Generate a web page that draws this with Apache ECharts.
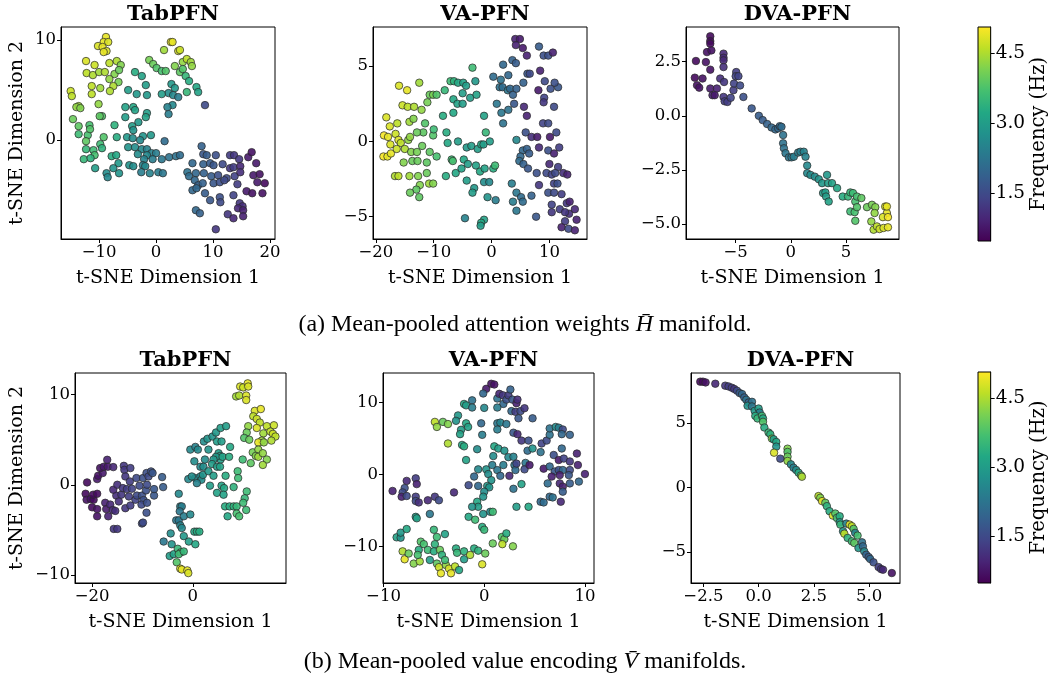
<!DOCTYPE html>
<html>
<head>
<meta charset="utf-8">
<script src="https://cdn.jsdelivr.net/npm/echarts@6/dist/echarts.min.js"></script>
<style>html,body{margin:0;padding:0;background:#fff}#c{width:1050px;height:682px}</style>
</head>
<body>
<div id="c"></div>
<script>
// ---- data: [t-SNE dim 1, t-SNE dim 2, frequency (Hz)] ----
const tabH = [[-8.8,10.3,4.9],[-9.2,9.8,4.9],[-8.4,9.8,4.8],[-10.2,9.4,4.8],[-9.4,9.3,4.9],[-8.7,8.9,4.8],[-9.2,8.8,4.9],[-12.3,7.9,4.8],[-10.8,7.5,4.7],[-8.2,7.7,4.6],[-6.9,7.9,4.5],[-6.2,7.5,4.2],[-12.2,6.7,4.6],[-11.1,6.5,4.5],[-10.0,6.8,4.4],[-9.0,6.8,4.5],[-7.3,6.6,4.2],[-6.5,7.0,4.0],[-8.2,6.1,4.3],[-6.6,5.8,4.1],[-11.3,5.4,4.6],[-9.8,5.2,4.4],[-7.5,5.4,4.5],[-8.1,4.9,4.5],[-11.3,4.6,4.6],[-15.0,4.9,4.7],[-14.8,4.4,4.6],[-13.6,3.4,4.4],[-14.0,3.3,4.3],[-13.3,3.2,4.2],[-10.1,3.6,4.3],[-9.5,2.4,3.8],[-9.9,2.4,3.9],[-14.6,2.1,4.0],[-13.6,1.4,3.9],[-11.7,1.5,3.7],[-13.6,0.6,3.6],[-12.0,0.5,3.7],[-11.6,1.1,3.8],[-9.2,0.3,3.8],[-12.3,-0.1,3.9],[-9.8,-0.4,3.6],[-12.3,-0.9,3.5],[-11.0,-1.0,3.6],[-9.5,-0.8,3.4],[-10.8,-1.5,3.7],[-12.7,-1.9,3.5],[-11.5,-1.8,3.4],[-10.7,-2.8,3.0],[-8.7,-3.3,2.7],[-8.5,-3.7,2.6],[-7.8,-1.6,3.3],[-7.0,-1.5,3.2],[-6.6,-2.3,2.9],[-7.5,-2.8,2.8],[-6.5,-3.3,2.8],[-7.3,1.5,3.4],[-6.9,0.3,3.3],
[2.6,9.8,4.9],[2.9,9.8,4.9],[3.9,8.9,4.8],[4.2,9.0,4.7],[1.4,9.0,4.4],[-1.2,8.0,4.1],[-0.5,7.6,4.0],[0.1,7.2,3.8],[1.0,6.9,3.7],[1.7,6.9,3.8],[3.3,7.4,4.2],[4.7,7.8,4.3],[5.4,8.1,4.6],[6.1,7.8,4.4],[6.3,7.4,4.3],[4.2,6.8,3.9],[4.7,7.1,3.8],[5.2,6.4,3.5],[5.8,5.9,3.3],[7.1,5.3,3.2],[7.4,4.8,3.1],[5.4,4.8,3.5],[2.7,5.6,2.9],[3.3,5.2,2.9],[2.2,4.7,2.7],[1.0,4.6,3.0],[3.0,4.5,2.6],[3.9,4.3,2.4],[2.9,3.5,2.6],[2.0,3.3,2.5],[2.2,2.6,2.4],[8.6,3.5,1.5],[-3.7,6.8,3.3],[-2.5,6.4,3.1],[-1.8,5.5,3.0],[-4.9,5.0,3.0],[-3.4,4.6,2.9],[-1.6,4.5,2.9],[-5.4,3.3,3.1],[-4.0,3.3,3.2],[-3.7,3.0,3.1],[-5.4,2.3,3.0],[-1.6,2.7,3.0],[-1.8,2.3,3.1],[-3.1,1.8,2.9],[-4.2,1.4,3.0],[-4.0,1.0,2.8],[-2.3,0.4,2.8],[-0.9,0.5,2.9],[-5.1,0.3,2.9],[-4.1,0.2,2.7],[-2.8,0.0,2.6],[-4.9,-0.7,2.8],[-3.7,-0.7,2.7],[-2.5,-0.9,2.6],[-1.6,-0.9,2.5],[-0.8,-1.3,2.5],[0.0,-1.3,2.4],[-3.2,-1.4,2.7],[-1.6,-1.5,2.6],[-2.1,-1.9,2.5],[-0.6,-1.9,2.4],[1.0,-1.9,2.3],[-2.3,-2.5,2.5],[-4.7,-2.5,2.8],[-4.0,-2.6,2.7],[-1.9,-2.6,2.6],[-2.6,-3.2,2.4],[-1.1,-3.3,2.5],[0.4,-3.2,2.4],[1.2,-3.3,2.3],[1.5,-0.1,2.1],[2.3,-1.7,2.2],[3.5,-1.6,2.2],[4.2,-1.5,2.1],
[8.0,-0.6,1.9],[8.3,-1.4,1.7],[8.9,-1.5,1.8],[10.5,-1.5,1.6],[6.4,-2.3,2.0],[8.3,-2.4,1.9],[9.5,-2.3,1.8],[10.1,-2.5,1.7],[11.7,-2.4,1.5],[13.0,-1.5,1.3],[13.7,-1.5,1.2],[14.6,-1.9,1.2],[16.2,-1.7,0.8],[16.8,-1.2,0.7],[13.0,-2.8,1.2],[13.6,-2.7,1.3],[14.8,-2.6,1.0],[17.6,-2.3,0.8],[5.5,-3.2,2.2],[5.8,-3.6,2.1],[7.0,-3.3,2.0],[8.4,-3.3,1.9],[9.7,-3.6,1.8],[10.9,-3.5,1.6],[12.4,-3.8,1.5],[13.8,-3.6,1.4],[14.8,-3.2,1.1],[17.1,-3.5,0.8],[18.2,-3.4,0.7],[6.8,-4.0,2.0],[7.4,-4.5,1.9],[8.2,-4.3,1.9],[10.1,-4.3,1.7],[11.2,-4.2,1.6],[12.0,-4.0,1.5],[14.3,-4.4,1.3],[17.8,-4.2,0.8],[19.1,-4.3,0.6],[6.4,-5.0,2.0],[7.1,-4.8,2.0],[8.6,-5.3,1.8],[9.5,-6.0,1.7],[11.2,-5.7,1.6],[13.6,-5.5,1.4],[15.9,-5.1,0.8],[16.9,-5.3,0.7],[18.7,-5.3,0.7],[11.3,-6.2,1.5],[14.7,-6.3,1.2],[15.2,-6.6,1.1],[14.4,-6.8,1.0],[15.3,-7.0,0.9],[7.0,-7.0,2.0],[7.7,-7.3,1.9],[12.6,-7.4,1.2],[13.6,-7.8,1.0],[15.3,-7.6,0.9],[10.5,-8.9,1.2]];

const vaH = [[-18.7,-1.0,5.0],[-18.0,-1.0,4.9],[-17.4,-0.8,4.9],[-18.6,0.4,5.0],[-17.9,0.3,4.9],[-17.5,-0.2,4.8],[-18.2,1.6,4.8],[-17.6,1.0,4.8],[-16.6,0.5,4.7],[-16.3,1.2,4.6],[-16.1,0.1,4.8],[-15.7,-0.1,4.6],[-16.4,-0.5,4.7],[-15.0,-0.5,4.5],[-14.4,0.1,4.3],[-14.1,0.3,4.3],[-13.9,-0.7,4.2],[-12.9,-0.7,4.1],[-14.2,1.3,4.4],[-13.5,1.5,4.2],[-15.4,2.4,4.7],[-14.5,2.3,4.6],[-13.4,2.3,4.5],[-12.1,2.1,4.3],[-16.0,3.7,4.8],[-14.6,3.4,4.9],[-12.5,3.9,4.4],[-11.1,2.6,4.1],[-10.7,3.1,4.0],[-10.1,3.1,4.1],[-9.5,3.1,3.8],[-11.5,1.2,3.8],[-11.8,0.6,3.9],[-12.9,0.6,4.0],[-12.0,-0.3,4.0],[-10.1,0.4,3.8],[-10.0,0.8,3.6],[-10.7,-0.7,3.9],[-9.5,-1.0,3.7],[-15.2,-1.4,4.2],[-13.7,-1.3,4.0],[-12.8,-1.3,4.0],[-11.2,-1.4,3.9],[-16.7,-2.3,4.5],[-16.1,-2.3,4.6],[-14.2,-2.3,4.4],[-12.7,-2.3,4.2],[-11.2,-2.1,4.0],[-12.4,-2.9,4.2],[-10.8,-2.8,4.4],[-10.1,-2.8,4.2],[-13.0,-3.2,3.9],[-14.1,-3.4,4.0],[-12.5,-3.7,3.9],
[-8.1,3.4,3.5],[-7.1,4.0,3.6],[-6.5,4.0,3.4],[-5.8,3.9,3.2],[-4.9,3.9,3.1],[-4.4,3.7,3.0],[-2.8,4.0,2.9],[-3.3,4.9,3.6],[-5.0,3.2,3.0],[-3.7,2.9,3.0],[-2.6,3.1,3.1],[-6.6,2.8,3.2],[-5.9,2.5,3.1],[-5.0,2.5,3.0],[-8.4,1.7,3.3],[-6.6,1.9,3.2],[-1.3,1.7,3.1],[-7.8,0.6,3.3],[-7.6,-0.1,3.2],[-5.8,0.0,3.0],[-4.3,-0.4,2.9],[-3.5,-0.3,3.0],[-2.4,-0.5,3.0],[-1.8,-0.2,3.2],[-1.4,-0.2,3.0],[-1.0,0.6,3.5],[-0.3,0.0,3.0],[-6.9,-1.2,3.6],[-6.7,-1.3,3.7],[-6.2,-2.1,3.2],[-5.2,-1.8,3.1],[-4.8,-1.2,3.2],[-4.1,-1.5,3.0],[-2.7,-1.6,3.1],[-2.0,-2.0,3.2],[-1.2,-1.8,3.1],[0.3,-1.8,3.3],[0.6,-1.6,3.6],[-7.9,-2.3,3.3],[-4.3,-2.6,3.0],[-3.0,-3.1,2.9],[-3.3,-3.4,3.0],[-1.3,-2.7,2.7],[-0.4,-2.7,2.6],[-0.7,-3.7,2.8],[0.7,-3.9,2.4],[-4.6,-5.1,2.5],[-1.3,-5.2,3.1],[-1.8,-5.4,3.2],[-1.9,-5.6,3.0],
[0.3,4.3,2.1],[1.6,4.1,2.2],[2.0,5.1,2.0],[1.4,3.6,2.2],[1.9,3.6,2.1],[2.8,3.4,2.3],[2.9,4.4,2.0],[3.6,5.4,1.9],[4.2,5.2,1.8],[4.1,6.8,0.9],[4.9,6.8,0.8],[4.2,6.4,0.9],[5.4,6.2,0.8],[6.1,5.7,0.9],[8.2,6.3,1.8],[3.2,3.5,2.0],[3.7,3.1,1.9],[4.3,3.5,1.9],[3.9,2.5,1.7],[5.5,3.9,1.9],[6.2,4.5,1.7],[6.6,4.5,1.5],[0.9,2.5,2.3],[1.7,1.9,2.3],[2.9,2.1,2.2],[2.0,1.2,2.2],[5.6,2.3,1.0],[6.1,1.7,0.9],[8.4,4.7,0.9],[9.0,5.7,1.6],[9.8,5.7,1.6],[10.6,5.9,0.9],[9.2,4.0,1.5],[10.2,3.5,1.6],[11.5,3.6,1.7],[10.9,3.9,1.6],[8.1,3.4,0.8],[9.1,2.9,1.4],[9.0,2.6,1.2],[10.8,2.3,1.5],[8.9,1.2,1.4],[9.8,1.2,1.5],[5.9,0.6,1.6],[6.9,0.3,1.1],[7.9,0.3,0.8],[10.1,0.3,0.8],[11.2,0.6,1.5],[4.3,0.1,2.6],[5.4,-0.6,2.0],[6.1,-0.5,1.9],[6.5,-0.8,1.8],[5.0,-1.0,2.0],[8.2,-0.4,1.0],[9.8,-0.6,1.6],[11.7,-0.4,1.3],[10.8,-0.8,0.9],[4.8,-1.3,2.1],[5.5,-1.5,1.9],[6.3,-1.8,1.7],[7.8,-2.1,1.6],[9.5,-2.1,1.5],[10.4,-2.2,1.4],[10.0,-1.5,1.0],[11.5,-1.7,1.3],[11.0,-2.1,1.5],[12.4,-2.1,1.1],[13.1,-2.2,0.9],[8.2,-2.9,1.2],[10.8,-2.8,1.4],[11.4,-2.8,1.6],[3.5,-2.8,2.4],[4.3,-3.4,2.3],[5.1,-3.7,2.1],[6.9,-3.6,1.9],[9.8,-3.4,1.6],[10.8,-3.4,1.5],[12.1,-3.5,1.3],[3.7,-4.0,2.4],[5.4,-4.0,2.1],[4.3,-4.6,2.3],[10.4,-4.2,1.4],[10.4,-4.7,1.2],[11.8,-4.5,1.3],[13.0,-4.1,1.2],[13.5,-4.0,0.9],[13.4,-4.8,1.1],[12.7,-4.7,1.2],[14.4,-4.5,1.0],[12.7,-5.3,1.3],[14.7,-5.2,0.9],[12.1,-5.7,0.9],[13.3,-5.8,1.5],[14.4,-5.9,0.9],[7.7,-5.0,1.7]];

const dvaH = [[-7.3,3.67,0.6],[-7.3,3.45,0.6],[-7.3,3.33,0.6],[-7.6,2.94,0.7],[-7.2,3.02,0.7],[-8.6,2.53,0.6],[-7.7,2.48,0.7],[-7.3,2.13,0.7],[-8.7,1.76,0.6],[-8.0,1.72,0.7],[-8.5,1.41,0.7],[-8.3,1.30,0.7],[-7.3,1.26,0.8],[-6.7,1.26,0.9],[-7.1,0.95,0.9],[-6.9,0.95,0.8],[-6.1,2.87,1.0],[-6.1,2.68,1.0],[-6.1,2.56,1.0],[-6.1,2.25,1.1],[-6.4,1.72,1.1],[-6.05,1.56,1.2],[-6.1,0.87,1.2],[-6.0,0.67,1.3],[-5.75,0.64,1.3],[-5.45,0.83,1.4],[-5.2,1.18,1.3],[-5.15,1.49,1.4],[-4.95,2.02,1.3],[-5.0,1.83,1.4],[-4.75,1.83,1.4],[-4.6,1.4,1.5],[-4.3,0.87,1.6],[-3.55,0.34,1.7],[-2.9,0.0,1.8],[-2.55,-0.2,1.8],[-2.15,-0.38,1.9],[-1.75,-0.54,2.0],[-1.4,-0.63,2.0],[-1.15,-0.58,2.0],[-1.0,-0.48,2.0],[-0.85,-0.51,2.1],[-0.7,-0.89,2.2],[-0.7,-1.27,2.2],[-0.63,-1.5,2.2],[-0.48,-1.73,2.3],[-0.18,-1.92,2.3],[0.06,-1.92,2.3],[0.27,-1.89,2.4],[0.66,-1.7,2.4],[0.87,-1.66,2.4],[1.17,-1.66,2.5],[1.33,-1.89,2.5],[1.48,-2.3,2.6],[1.48,-2.65,2.6],[1.78,-2.73,2.7],[2.17,-2.81,2.7],[2.53,-2.93,2.8],[2.83,-3.11,2.9],[2.92,-3.57,3.0],[3.13,-3.54,3.0],[3.19,-3.73,3.0],[3.28,-2.73,2.9],[3.37,-3.11,3.0],[3.43,-3.96,3.1],[3.73,-3.11,3.1],[4.19,-3.34,3.2],[4.7,-3.73,3.3],[5.18,-3.73,3.5],[5.39,-3.54,3.5],[5.63,-3.57,3.6],[5.84,-3.96,3.7],[5.99,-3.73,3.7],[5.39,-4.42,3.6],[5.78,-4.45,3.7],[5.99,-4.22,3.8],[5.84,-4.85,3.8],[6.39,-3.8,3.9],[6.9,-4.22,4.0],[7.35,-4.11,4.1],[7.65,-4.22,4.2],[7.59,-4.49,4.3],[7.29,-4.88,4.3],[7.5,-5.26,4.5],[7.8,-5.11,4.6],[8.04,-5.23,4.7],[8.4,-5.18,4.8],[8.8,-5.15,4.9],[8.55,-4.19,4.8],[8.7,-4.49,4.9],[8.34,-4.68,4.8],[8.8,-4.68,5.0],[8.7,-4.19,4.9]];

const tabV = [[-21.0,0.26,0.6],[-21.3,-1.0,0.6],[-21.1,-1.66,0.7],[-20.3,-1.59,0.7],[-19.7,-1.66,0.6],[-19.8,-1.1,0.6],[-19.0,-1.0,0.6],[-20.0,-2.5,0.6],[-19.0,-2.7,0.7],[-19.0,-3.5,0.7],[-19.0,0.63,0.8],[-18.8,1.0,0.7],[-17.9,1.3,0.8],[-18.4,1.85,0.7],[-17.7,2.0,0.8],[-16.9,2.0,0.8],[-17.0,2.77,0.9],[-15.8,1.96,1.0],[-17.4,-2.0,0.9],[-17.2,-2.7,0.8],[-16.8,-3.5,0.9],[-16.4,-2.2,1.0],[-15.9,-2.8,1.0],[-15.4,-2.9,1.1],[-15.2,-1.2,1.1],[-15.8,-0.55,1.0],[-14.7,-1.85,1.1],[-14.2,-1.1,1.2],[-15.0,0.0,1.1],[-13.7,2.1,1.2],[-13.6,1.66,1.2],[-12.4,1.85,1.3],[-13.4,0.92,1.2],[-12.5,0.37,1.3],[-13.9,-0.37,1.2],[-13.1,-0.48,1.3],[-12.1,-0.44,1.4],[-13.4,-2.6,1.2],[-12.4,-2.3,1.3],[-12.7,-1.3,1.3],[-11.4,-1.66,1.4],[-11.1,-1.2,1.5],[-11.2,0.74,1.5],[-10.6,-0.1,1.5],[-9.9,0.74,1.6],[-9.2,1.3,1.6],[-8.8,0.92,1.5],[-8.3,1.48,1.6],[-8.0,1.3,1.7],[-10.1,-1.2,1.6],[-9.3,-0.63,1.6],[-9.1,0.0,1.5],[-9.8,-1.7,1.6],[-10.2,-2.2,1.5],[-9.1,-2.0,1.6],[-7.7,-1.2,1.7],[-7.7,-0.48,1.7],[-9.2,-3.1,1.6],[-10.1,-4.3,1.5],[-9.9,-4.2,1.5],[-15.7,-4.9,1.2],[-15.0,-4.9,1.2],[-6.1,0.85,1.8],[-5.9,-0.26,1.8],
[-2.8,-1.0,2.6],[-2.5,-2.4,2.5],[-2.2,-2.4,2.4],[-2.6,-2.95,2.3],[-3.3,-3.95,2.3],[-2.8,-3.95,2.3],[-2.5,-4.5,2.5],[-2.2,-4.8,2.6],[-1.8,-3.5,2.4],[-0.5,-3.3,2.6],[-4.4,-5.4,2.7],[-5.8,-6.3,2.3],[-4.2,-6.6,2.8],[-4.6,-7.9,3.0],[-3.8,-7.7,3.1],[-3.0,-7.1,3.5],[-2.4,-7.5,3.7],[-2.8,-7.7,3.6],[-1.8,-7.4,3.5],[-3.2,-8.6,3.8],[-2.5,-9.3,4.8],[-2.2,-9.4,4.9],[-1.1,-9.5,4.9],[-0.9,-9.8,4.8],[-1.8,-5.7,2.9],[-0.8,-6.3,3.0],[0.5,-6.6,3.2],[0.3,-5.2,3.2],[0.8,-5.2,3.3],[1.3,-5.2,3.3],
[-0.5,3.9,2.6],[0.5,4.2,2.5],[1.0,3.9,2.6],[0.3,2.6,2.7],[1.5,2.0,2.6],[2.1,2.0,2.7],[2.4,2.8,2.7],[0.5,0.74,2.6],[1.5,0.92,2.6],[1.7,0.55,2.7],[-0.9,0.63,2.6],[-0.2,0.92,2.7],[0.8,0.18,2.5],[2.0,1.1,2.8],[3.1,1.5,2.9],[2.2,4.8,2.7],[2.9,5.1,2.8],[3.9,5.35,2.8],[4.6,5.8,2.9],[5.5,6.3,3.0],[6.6,6.5,3.0],[3.1,3.9,2.8],[4.8,4.8,3.0],[5.7,4.8,3.0],[5.1,3.5,3.0],[5.4,3.2,3.0],[5.5,2.8,3.0],[4.6,3.1,2.9],[4.1,2.8,2.9],[3.8,2.3,3.0],[4.8,2.0,3.0],[5.4,2.0,3.1],[5.9,3.1,3.1],[7.2,3.1,3.3],[7.4,4.2,3.2],[6.5,1.0,3.3],[4.1,1.0,3.0],[3.4,-0.1,3.0],[5.7,-0.1,3.1],[6.2,-0.37,3.2],[4.8,-0.9,3.1],[6.1,-1.1,3.1],[8.1,-0.26,3.4],[8.9,1.5,3.6],[9.0,0.74,3.6],[10.7,-0.74,3.6],[10.3,-1.5,3.5],[6.4,-2.4,3.3],[7.3,-2.4,3.3],[8.1,-2.4,3.4],[8.7,-2.4,3.5],[6.9,-3.5,3.2],[8.7,-3.2,3.7],[9.2,-3.5,3.7],[10.0,-2.0,3.6],[10.6,-2.8,3.6],
[8.6,9.8,4.4],[9.2,9.9,4.5],[9.4,10.9,4.8],[10.0,10.8,4.7],[10.9,11.25,4.9],[11.0,10.9,4.8],[10.6,9.9,4.8],[10.6,9.4,4.8],[12.3,8.2,4.8],[13.5,8.4,4.9],[12.0,7.6,4.6],[12.7,7.3,4.7],[13.3,6.9,4.6],[11.0,6.5,4.3],[12.7,6.3,4.8],[14.7,6.5,4.6],[16.1,6.6,4.7],[10.7,5.8,4.0],[14.0,5.7,4.4],[15.4,5.9,4.6],[15.9,5.65,4.7],[16.4,5.35,4.6],[10.2,5.2,3.8],[11.2,5.0,4.0],[13.7,4.9,4.4],[13.0,4.7,4.9],[14.1,4.7,4.3],[15.6,4.9,4.5],[11.9,3.6,4.1],[13.0,3.9,4.3],[12.5,3.2,4.2],[13.0,3.1,4.4],[13.9,3.5,4.3],[14.7,2.8,4.2],[13.9,2.2,4.4],[9.9,2.8,3.6],[11.5,2.4,3.9]];

const vaV = [[0.2,11.9,0.8],[0.7,12.6,0.7],[1.0,12.5,0.7],[-0.1,11.25,2.0],[-1.2,10.3,2.2],[-2.0,9.8,3.2],[-1.8,9.6,3.0],[-1.2,9.3,2.4],[0.0,9.25,2.6],[1.3,10.55,2.2],[1.5,11.2,1.0],[1.85,11.0,1.2],[1.9,9.8,2.0],[2.2,10.4,1.6],[2.4,11.0,1.3],[2.6,11.8,1.9],[2.8,10.4,1.7],[3.2,9.9,0.9],[3.3,10.4,1.1],[1.3,9.3,2.4],[2.7,8.8,2.0],[3.1,8.7,1.3],[3.6,8.8,1.5],[4.0,9.2,1.2],[4.8,7.8,1.8],[3.4,7.8,1.7],[1.3,7.1,2.3],[1.6,7.2,2.5],[2.2,7.0,2.3],[1.3,6.25,2.4],[2.9,5.8,1.7],[3.3,5.6,1.0],[3.7,4.7,1.2],[4.4,4.7,1.6],[-0.3,7.1,2.0],[-0.2,5.5,2.4],[-2.6,8.2,2.9],[-2.8,7.45,2.8],[-1.8,7.1,3.2],[-1.6,6.6,3.1],[-2.3,6.2,3.0],[-2.4,5.6,3.1],[-4.9,7.3,4.6],[-4.7,6.6,4.3],[-4.1,7.3,4.0],[-3.6,7.0,4.2],[-3.6,4.3,4.5],[-2.2,4.1,3.2],[-2.0,3.9,3.3],[-0.7,3.5,2.7],[1.0,3.9,3.2],[1.4,3.6,3.0],[2.0,3.3,2.8],[2.4,2.4,2.6],[2.9,2.45,2.5],[0.9,2.55,2.7],[-1.8,2.0,3.1],[-0.6,0.7,2.6],[0.2,0.7,2.8],[0.4,0.05,2.7],[0.8,1.3,2.4],[1.3,0.6,2.3],[1.9,1.3,2.4],[-1.0,-0.3,2.0],[1.6,-0.2,2.0],[2.5,-0.2,1.0],[3.0,1.3,2.3],[3.1,0.6,2.1],[3.2,1.5,1.4],[4.1,1.6,2.3],[4.0,0.7,1.5],[4.5,1.3,0.8],[4.3,3.3,2.1],[4.8,3.6,2.8],[5.6,3.1,2.2],[5.7,4.3,1.4],[6.2,4.7,1.5],[6.5,5.5,2.2],[6.5,6.4,2.2],[7.1,6.6,2.7],[7.4,6.5,2.4],[7.8,6.25,1.5],[7.7,5.6,2.0],[8.5,5.5,1.9],[7.7,3.6,2.0],[6.9,2.7,1.6],[7.4,2.0,0.8],[7.9,2.2,1.4],[8.5,1.8,1.2],[9.2,2.9,0.9],[9.3,1.3,0.9],[5.9,0.8,0.8],[6.5,1.1,2.0],[7.0,0.4,1.7],[7.4,0.6,1.6],[7.8,0.6,2.0],[8.5,0.6,1.5],[7.5,-0.1,0.9],[6.7,-0.3,0.9],[8.4,-0.1,1.7],[10.0,0.05,0.9],[9.4,-1.0,2.0],[7.5,-1.25,1.0],[8.5,-1.25,1.8],[6.3,-1.25,2.1],[7.8,-1.7,0.9],[7.8,-2.4,1.8],[6.5,-3.1,2.0],[6.8,-3.2,2.2],[5.6,-3.8,2.0],[5.9,-3.9,2.1],[7.6,-3.8,1.0],[4.4,-4.5,3.2],[3.2,-4.5,3.0],[2.9,-2.0,2.2],[3.7,-1.35,3.1],[0.7,-0.8,2.8],[0.3,-1.6,2.9],[0.5,-1.8,2.8],[0.0,-2.4,2.7],[-0.1,-3.1,2.8],[-0.6,-1.6,2.0],[-1.55,-1.5,1.5],[-0.7,-3.8,3.2],[-0.6,-4.5,3.0],[-1.2,-4.5,2.8],[-0.1,-5.5,2.8],[0.6,-5.2,2.6],[0.85,-5.2,3.6],[-1.55,-5.9,3.2],[-0.9,-6.3,3.6],[-0.2,-7.3,3.3],[0.0,-7.7,3.5],[-1.0,-10.3,3.3],[-0.6,-10.6,3.4],[0.1,-11.0,4.0],[-0.2,-12.5,4.8],[0.85,-9.6,4.0],[1.75,-8.7,3.8],[2.0,-9.0,4.0],[2.2,-8.2,3.3],[1.8,-9.7,4.6],[2.85,-10.0,4.2],
[-3.0,-2.5,1.0],[-4.9,-3.1,1.2],[-4.5,-3.6,1.5],[-5.4,-5.5,2.3],[-6.8,-0.55,1.3],[-6.7,-1.35,0.9],[-7.7,-0.9,1.0],[-7.9,-1.9,1.6],[-8.1,-2.5,1.5],[-8.2,-3.1,0.9],[-7.7,-3.0,1.5],[-9.1,-2.3,0.9],[-6.8,-3.1,1.3],[-6.8,-3.7,1.5],[-6.5,-3.9,1.1],[-5.6,-3.6,1.0],[-6.8,-5.9,3.0],[-6.7,-6.1,3.1],[-8.7,-8.75,3.1],[-8.3,-8.8,2.8],[-8.3,-8.1,2.9],[-7.7,-7.6,3.2],[-8.1,-10.7,4.5],[-7.9,-11.8,4.9],[-7.5,-11.0,4.0],[-7.0,-12.4,4.2],[-6.4,-12.1,4.4],[-6.3,-9.35,3.8],[-6.0,-9.7,3.7],[-6.5,-10.5,3.3],[-6.6,-11.2,3.7],[-5.6,-10.5,3.6],[-4.9,-9.7,3.4],[-4.7,-8.7,3.6],[-3.9,-8.3,3.1],[-5.0,-7.7,3.5],[-5.4,-11.9,3.0],[-5.0,-10.7,3.3],[-4.4,-10.5,4.0],[-4.2,-11.2,3.4],[-4.7,-12.4,3.9],[-4.5,-12.9,4.7],[-4.3,-13.75,4.9],[-3.8,-12.6,4.3],[-3.5,-13.1,4.8],[-3.3,-13.75,4.9],[-3.9,-11.9,3.6],[-2.9,-12.8,4.6],[-2.5,-13.3,3.2],[-2.8,-10.3,3.3],[-2.7,-10.9,3.5],[-2.0,-10.7,3.4],[-2.0,-11.8,3.0],[-1.4,-11.2,4.5]];

const dvaV = [[-2.64,8.19,0.6],[-2.52,8.19,0.6],[-2.4,8.13,0.7],[-1.96,8.03,1.0],[-1.51,7.88,1.2],[-1.36,7.82,1.3],[-1.21,7.72,1.3],[-1.1,7.62,1.2],[-0.98,7.49,1.5],[-0.86,7.31,1.8],[-0.75,7.23,2.0],[-0.65,6.97,1.9],[-0.56,6.79,2.2],[-0.45,6.58,1.9],[-0.3,6.63,2.2],[-0.5,6.32,2.8],[-0.3,6.27,2.3],[-0.18,5.93,2.9],[0.0,6.11,3.0],[0.05,5.8,2.5],[-0.15,5.54,3.3],[-0.05,5.34,3.5],[0.15,5.54,3.6],[0.2,5.34,3.2],[0.2,5.08,3.8],[0.26,4.64,3.3],[0.45,4.25,3.5],[0.53,4.12,3.4],[0.6,3.78,4.2],[0.68,3.73,3.0],[0.8,3.52,3.2],[0.8,3.16,2.8],[0.7,2.69,4.8],[0.98,2.23,1.5],[1.31,3.0,4.2],[1.31,2.75,3.8],[1.31,2.38,4.0],[1.31,2.05,4.3],[1.46,1.79,2.6],[1.58,1.53,2.4],[1.7,1.35,2.7],[1.81,1.14,3.3],[1.92,0.93,3.9],[1.96,0.83,4.5],[2.71,-0.67,4.6],[2.79,-0.8,4.2],[2.87,-1.06,4.9],[3.02,-1.19,3.9],[3.09,-1.45,3.4],[3.21,-1.84,3.3],[3.36,-2.18,4.8],[3.47,-2.02,3.8],[3.54,-2.36,3.7],[3.67,-2.23,3.3],[3.67,-2.69,2.9],[3.7,-2.88,3.5],[3.82,-3.39,2.8],[3.88,-3.58,4.6],[3.97,-2.8,2.5],[4.12,-2.88,4.9],[4.22,-3.0,4.6],[4.3,-3.21,3.8],[4.03,-3.91,3.4],[4.22,-4.17,3.6],[4.37,-3.52,2.5],[4.48,-3.73,3.7],[4.33,-4.3,3.9],[4.52,-4.69,2.9],[4.68,-4.25,2.2],[4.72,-4.56,2.0],[4.78,-4.95,2.6],[4.87,-5.21,1.9],[4.98,-5.39,1.8],[5.05,-5.54,2.0],[5.2,-5.8,1.6],[5.43,-6.17,1.3],[5.54,-6.32,1.2],[5.63,-6.37,1.0],[6.03,-6.63,0.7]];

// ---- labels & ticks ----
const titles = ['TabPFN', 'VA-PFN', 'DVA-PFN', 'TabPFN', 'VA-PFN', 'DVA-PFN'];
const xTicks = [[-10, 0, 10, 20], [-20, -10, 0, 10], [-5, 0, 5], [-20, 0], [-10, 0, 10], [-2.5, 0, 2.5, 5]];
const yTicks = [[0, 10], [-5, 0, 5], [-5, -2.5, 0, 2.5], [-10, 0, 10], [-10, 0, 10], [-5, 0, 5]];
const xDec = [0, 0, 0, 0, 0, 1];
const yDec = [0, 0, 1, 0, 0, 0];
const freqTicks = [1.5, 3.0, 4.5];
const freqRange = [0.48, 5.06];
const captions = ['(a) Mean-pooled attention weights ', ' manifold.', '(b) Mean-pooled value encoding ', ' manifolds.'];
const datasets = [tabH, vaH, dvaH, tabV, vaV, dvaV];

// ---- layout ----
const grids = [
  {left: 61, top: 27, width: 214, height: 212},
  {left: 373, top: 27, width: 214, height: 212},
  {left: 686, top: 27, width: 213, height: 212},
  {left: 75, top: 373, width: 211, height: 210},
  {left: 383, top: 373, width: 211, height: 210},
  {left: 691, top: 373, width: 209, height: 210}
];
const ranges = [
  {x: [-16.7, 20.9], y: [-9.87, 11.3]},
  {x: [-20.5, 16.5], y: [-6.48, 7.6]},
  {x: [-9.5, 9.8], y: [-5.69, 4.1]},
  {x: [-23.4, 18.5], y: [-10.9, 12.4]},
  {x: [-10.05, 10.9], y: [-15.1, 14.1]},
  {x: [-3.06, 6.4], y: [-7.4, 8.86]}
];
const VIRIDIS = ['#440154','#482475','#414487','#355f8d','#2a788e','#21918c','#22a884','#44bf70','#7ad151','#bddf26','#fde725'];
const FONT = 'DejaVu Serif';
const fmt = d => v => (d ? Number(v).toFixed(d) : String(Math.round(v))).replace('-', '\u2212');

const option = {
  backgroundColor: '#fff',
  animation: false,
  title: [],
  grid: [],
  xAxis: [],
  yAxis: [],
  series: [],
  visualMap: [{
    show: false, type: 'continuous', dimension: 2, seriesIndex: [0,1,2,3,4,5],
    min: freqRange[0], max: freqRange[1], inRange: {color: VIRIDIS}
  }],
  graphic: []
};

function axisCommon(ticks, dec, fs) {
  return {
    axisLine: {show: true, onZero: false, lineStyle: {color: '#000', width: 1}},
    axisTick: {show: true, length: 4, lineStyle: {color: '#000', width: 1}, customValues: ticks},
    axisLabel: {color: '#000', fontFamily: FONT, fontSize: fs, margin: 5, formatter: fmt(dec), customValues: ticks},
    splitLine: {show: false}
  };
}

for (let i = 0; i < 6; i++) {
  const g = grids[i];
  option.grid.push(Object.assign({show: true, borderColor: '#000', borderWidth: 1, backgroundColor: 'transparent'}, g));
  option.title.push({
    text: titles[i], left: g.left + g.width / 2, top: g.top - 28, textAlign: 'center',
    textStyle: {fontFamily: FONT, fontWeight: 'bold', fontSize: 21, color: '#000'}
  });
  option.xAxis.push(Object.assign({
    type: 'value', gridIndex: i, min: ranges[i].x[0], max: ranges[i].x[1],
    name: 't-SNE Dimension 1', nameLocation: 'middle', nameGap: 30,
    nameTextStyle: {fontFamily: FONT, fontSize: 19, color: '#000'}
  }, axisCommon(xTicks[i], xDec[i], 16.5)));
  const ya = Object.assign({
    type: 'value', gridIndex: i, min: ranges[i].y[0], max: ranges[i].y[1]
  }, axisCommon(yTicks[i], yDec[i], 16.5));
  if (i === 0 || i === 3) {
    ya.name = 't-SNE Dimension 2';
    ya.nameLocation = 'middle';
    ya.nameGap = i === 0 ? 34 : 48;
    ya.nameTextStyle = {fontFamily: FONT, fontSize: 19, color: '#000'};
  }
  option.yAxis.push(ya);
  option.series.push({
    type: 'scatter', xAxisIndex: i, yAxisIndex: i, data: datasets[i], symbolSize: 7.5,
    itemStyle: {borderColor: '#2a2a2a', borderWidth: 0.8, opacity: 0.9}
  });
}

// colorbars
const cbGrids = [{left: 978, top: 27, width: 13, height: 214}, {left: 978, top: 372, width: 13, height: 211}];
const stops = VIRIDIS.map((c, k) => ({offset: k / (VIRIDIS.length - 1), color: c}));
cbGrids.forEach((g, j) => {
  const gi = 6 + j;
  option.grid.push(Object.assign({show: true, borderColor: '#000', borderWidth: 1, backgroundColor: 'transparent', z: 3}, g));
  option.xAxis.push({type: 'value', gridIndex: gi, min: 0, max: 1, show: false});
  option.yAxis.push(Object.assign({
    type: 'value', gridIndex: gi, min: freqRange[0], max: freqRange[1], position: 'right',
    name: 'Frequency (Hz)', nameLocation: 'middle', nameRotate: 90, nameGap: 37,
    nameTextStyle: {fontFamily: FONT, fontSize: 19.5, color: '#000'}
  }, axisCommon(freqTicks, 1, 18.5)));
  option.series.push({
    type: 'custom', xAxisIndex: gi, yAxisIndex: gi, silent: true,
    data: [[0, freqRange[0], freqRange[1]]],
    renderItem: (params, api) => {
      const p0 = api.coord([0, api.value(1)]);
      const p1 = api.coord([1, api.value(2)]);
      return {type: 'rect', shape: {x: p0[0], y: p1[1], width: p1[0] - p0[0], height: p0[1] - p1[1]},
        style: {fill: new echarts.graphic.LinearGradient(0, 1, 0, 0, stops)}};
    }
  });
});

// captions
option.graphic.push({
  type: 'text', left: 'center', top: 313,
  style: {
    text: captions[0] + '{i|H\u0304}' + captions[1],
    font: '24px "Liberation Serif"', fill: '#000',
    rich: {i: {fontStyle: 'italic', fontFamily: 'Liberation Serif', fontSize: 24}}
  }
});
option.graphic.push({
  type: 'text', left: 'center', top: 650,
  style: {
    text: captions[2] + '{i|V\u0304}' + captions[3],
    font: '24px "Liberation Serif"', fill: '#000',
    rich: {i: {fontStyle: 'italic', fontFamily: 'Liberation Serif', fontSize: 24}}
  }
});

const chart = echarts.init(document.getElementById('c'), null, {renderer: 'canvas'});
chart.setOption(option);
</script>
</body>
</html>
